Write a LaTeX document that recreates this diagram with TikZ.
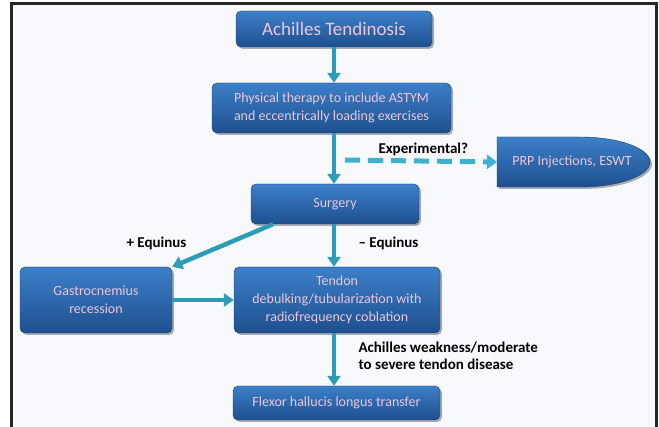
\documentclass[tikz,border=0pt]{standalone}
\usepackage{fontspec}
\setmainfont{Carlito}
\usetikzlibrary{arrows.meta,shadows}
\definecolor{bgc}{HTML}{F7F9FD}
\definecolor{boxtop}{HTML}{3C80C8}
\definecolor{boxbot}{HTML}{1E4F8F}
\definecolor{txtc}{HTML}{EDC6DA}
\definecolor{arrc}{HTML}{2C9CB9}
\definecolor{dashc}{HTML}{3DB2CF}
\tikzset{
  box/.style={rounded corners=5pt, top color=boxtop, bottom color=boxbot,
    draw=boxbot!80!black, line width=0.4pt, text=txtc, align=center,
    font=\fontsize{14}{18}\selectfont, inner sep=0pt,
    drop shadow={shadow xshift=2pt, shadow yshift=-2pt, opacity=0.45, fill=black!70}},
  flow/.style={line width=4.5pt, draw=arrc, -{Triangle[width=13pt,length=10pt]}},
  dflow/.style={line width=5pt, draw=dashc, dash pattern=on 15pt off 8pt, -{Triangle[width=14pt,length=10pt]}},
  lbl/.style={font=\bfseries\fontsize{15}{17}\selectfont, text=black, align=left}
}
\begin{document}
\begin{tikzpicture}[x=1pt,y=-1pt]
\useasboundingbox (0,0) rectangle (659,427);
\fill[white] (0,0) rectangle (659,427);
\fill[bgc] (12,4) rectangle (656,427);
\draw[line width=3pt, black!85] (11.5,427) -- (11.5,4) -- (656.5,4) -- (656.5,427);
% nodes
\node[box, minimum width=196pt, minimum height=36pt, font=\fontsize{19}{22}\selectfont] (ach) at (334,29) {Achilles Tendinosis};
\node[box, minimum width=239pt, minimum height=50pt] (pt) at (331.5,108) {Physical therapy to include ASTYM\\and eccentrically loading exercises};
\node[box, minimum width=168pt, minimum height=40pt] (surg) at (335,204) {Surgery};
\node[box, minimum width=152pt, minimum height=66pt] (gas) at (96,300) {Gastrocnemius\\recession};
\node[box, minimum width=206pt, minimum height=66pt] (ten) at (337,300) {Tendon\\debulking/tubularization with\\radiofrequency coblation};
\node[box, minimum width=207pt, minimum height=34pt] (fhl) at (336.5,403) {Flexor hallucis longus transfer};
% PRP bullet shape
\path[top color=boxtop, bottom color=boxbot, draw=boxbot!80!black, line width=0.4pt,
  drop shadow={shadow xshift=2pt, shadow yshift=-2pt, opacity=0.45, fill=black!70}]
  (497,137) -- (580,137) arc[start angle=90, end angle=-90, x radius=70pt, y radius=25pt] -- (497,187) -- cycle;
\node[text=txtc, font=\fontsize{14}{16}\selectfont, anchor=center] (prp) at (572,162) {PRP Injections, ESWT};
\coordinate (prpl) at (497,162);
% connectors
\draw[flow] (ach.south) -- (pt.north -| ach.south);
\draw[flow] (pt.south -| ach.south) -- (surg.north -| ach.south);
\coordinate (dstart) at (345,160);
\draw[dflow] (dstart) -- (prpl);
\draw[flow] ([xshift=-62pt]surg.south) -- (gas.north east);
\draw[flow] (surg.south -| ach.south) -- (ten.north -| ach.south);
\draw[flow] (gas.east) -- (ten.west);
\draw[flow] (ten.south -| ach.south) -- (fhl.north -| ach.south);
% labels
\node[lbl, anchor=west] (lexp) at (375,149) {Experimental?};
\node[lbl, anchor=west] (lpe) at (123,243) {+ Equinus};
\node[lbl, anchor=west] (lme) at (355,243) {– Equinus};
\node[lbl, anchor=west] (law) at (355,356) {Achilles weakness/moderate\\to severe tendon disease};
\end{tikzpicture}
\end{document}
